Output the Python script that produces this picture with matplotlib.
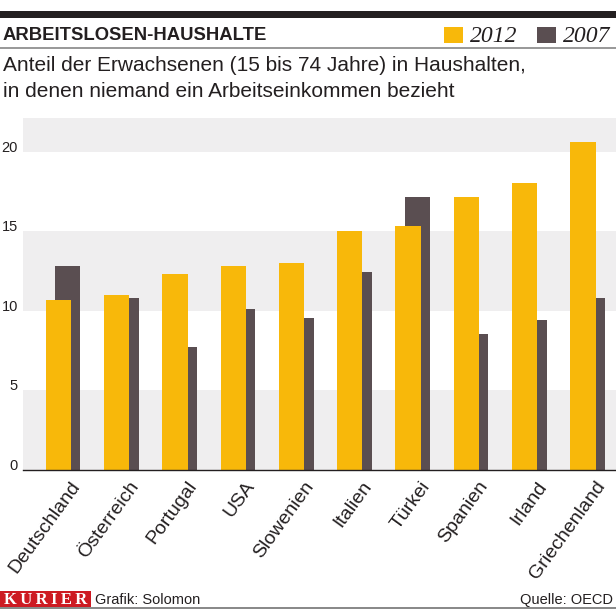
import numpy as np
import matplotlib
matplotlib.use("Agg")
import matplotlib.pyplot as plt
from matplotlib.patches import Rectangle

# values (share of adults in jobless households, %)
countries = ['Deutschland', 'Österreich', 'Portugal', 'USA', 'Slowenien',
             'Italien', 'Türkei', 'Spanien', 'Irland', 'Griechenland']
v2012 = [10.7, 11.0, 12.3, 12.85, 13.0, 15.0, 15.35, 17.15, 18.05, 20.6]
v2007 = [12.8, 10.8, 7.7, 10.1, 9.55, 12.45, 17.15, 8.55, 9.4, 10.8]
yticks = [0, 5, 10, 15, 20]
years = ['2012', '2007']

title = "ARBEITSLOSEN-HAUSHALTE"
subtitle = ["Anteil der Erwachsenen (15 bis 74 Jahre) in Haushalten,",
            "in denen niemand ein Arbeitseinkommen bezieht"]
credit = "Grafik: Solomon"
source = "Quelle: OECD"

YELLOW = '#F8B80A'
DARK = '#5A4E51'
BAND = '#EFEEEF'
RED = '#CD1A22'
SANS = ['Liberation Sans', 'DejaVu Sans']
SERIF = ['Liberation Serif', 'DejaVu Serif']

W, H = 616, 609
plt.rcParams['font.family'] = SANS


def fx(x):
    return x / W


def fy(y):
    return 1 - y / H


fig = plt.figure(figsize=(W / 100, H / 100), dpi=100)

# header
fig.add_artist(Rectangle((0, fy(17.5)), 1, (17.5 - 10.5) / H,
                         transform=fig.transFigure, color='#231F20', lw=0))
fig.add_artist(Rectangle((0, fy(48.7)), 1, 1.8 / H,
                         transform=fig.transFigure, color='#9A9A9A', lw=0))
fig.text(fx(3), fy(40), title, fontsize=13.3, fontweight='bold',
         color='#231F20', va='baseline')

for x0, col, lab in [(444, YELLOW, years[0]), (537, DARK, years[1])]:
    fig.add_artist(Rectangle((fx(x0), fy(42.5)), 19 / W, 16 / H,
                             transform=fig.transFigure, color=col, lw=0))
    fig.text(fx(x0 + 26), fy(42), lab, family=SERIF,
             style='italic', fontsize=17, color='#231F20', va='baseline')

fig.text(fx(3), fy(71), subtitle[0], fontsize=15, color='#231F20',
         va='baseline')
fig.text(fx(3), fy(97), subtitle[1], fontsize=15, color='#231F20',
         va='baseline')

# chart
ax = fig.add_axes([fx(23), fy(470), 593 / W, (470 - 118) / H])
x = np.arange(len(countries))
ax.set_xlim(-0.686, 9.485)
ax.set_ylim(0, 22.12)

for lo, hi in [(0, 5), (10, 15), (20, 30)]:
    ax.axhspan(lo, hi, color=BAND, lw=0, zorder=0)

w = 0.434
ax.bar(x + 0.08, v2007, width=w, color=DARK, zorder=2)
ax.bar(x - 0.08, v2012, width=w, color=YELLOW, zorder=3)

for s in ['top', 'right', 'left']:
    ax.spines[s].set_visible(False)
ax.spines['bottom'].set_color('#231F20')
ax.spines['bottom'].set_linewidth(1.0)
ax.spines['bottom'].set_zorder(4)

ax.set_yticks([])
for t in yticks:
    ax.text(-0.0085, t, str(t), transform=ax.get_yaxis_transform(),
            ha='right', va='baseline', fontsize=10.5, color='#231F20')

ax.set_xticks(x + 0.12)
ax.set_xticklabels(countries, rotation=54, ha='right', va='top',
                   rotation_mode='anchor', fontsize=14, color='#231F20')
ax.tick_params(axis='x', length=0, pad=6)

# footer
fig.add_artist(Rectangle((0, fy(606.7)), 90.7 / W, 16 / H,
                         transform=fig.transFigure, color=RED, lw=0))
fig.text(fx(46), fy(604), "K\u2009U\u2009R\u2009I\u2009E\u2009R", family=SERIF,
         fontweight='bold', fontsize=12, color='white', ha='center',
         va='baseline')
fig.text(fx(95), fy(604), credit, fontsize=10.5, color='#231F20',
         va='baseline')
fig.text(fx(613), fy(604), source, fontsize=10.5, color='#231F20',
         ha='right', va='baseline')
fig.add_artist(Rectangle((0, 0), 1, 2 / H, transform=fig.transFigure,
                         color='#8A8A8A', lw=0))

fig.savefig('out.png', dpi=100)
